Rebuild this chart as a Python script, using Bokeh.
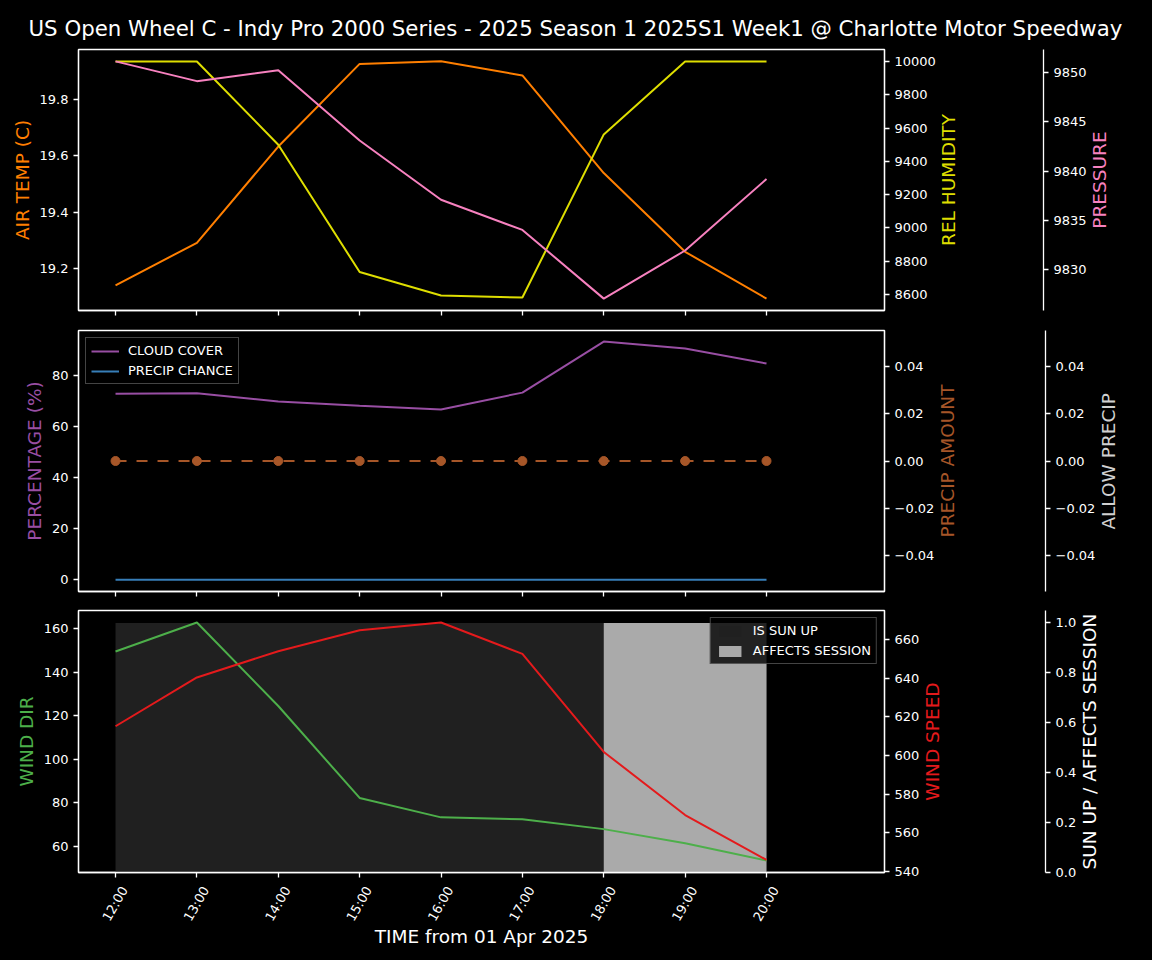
import math
from bokeh.plotting import figure
from bokeh.models import (LinearAxis, Range1d, FixedTicker, CustomJSTickFormatter,
                          Legend, LegendItem, CustomLabelingPolicy)
from bokeh.layouts import column
from bokeh.embed import file_html
from bokeh.resources import INLINE

# ---------------- data ----------------
TITLE = "US Open Wheel C - Indy Pro 2000 Series - 2025 Season 1 2025S1 Week1 @ Charlotte Motor Speedway"
X_LABEL = "TIME from 01 Apr 2025"
hours = [12, 13, 14, 15, 16, 17, 18, 19, 20]
hour_labels = ["12:00", "13:00", "14:00", "15:00", "16:00", "17:00", "18:00", "19:00", "20:00"]

air_temp = [19.141, 19.292, 19.633, 19.926, 19.935, 19.885, 19.539, 19.26, 19.094]
rel_humidity = [10000, 10000, 9500, 8735, 8594, 8582, 9562, 10000, 10000]
pressure = [9851.1, 9849.1, 9850.2, 9843.1, 9837.1, 9834.05, 9827.1, 9831.97, 9839.2]

cloud_cover = [72.9, 73.1, 69.8, 68.2, 66.7, 73.3, 93.3, 90.6, 84.7]
precip_chance = [0, 0, 0, 0, 0, 0, 0, 0, 0]
precip_amount = [0.0, 0.0, 0.0, 0.0, 0.0, 0.0, 0.0, 0.0, 0.0]

wind_dir = [149.5, 162.8, 124.5, 82.3, 73.4, 72.5, 68.0, 61.5, 53.6]
wind_speed = [615.2, 640.5, 654.1, 665.0, 669.0, 652.7, 601.9, 569.2, 545.9]
is_sun_up = [1, 1, 1, 1, 1, 1, 1, 1, 1]
affects_session = [0, 0, 0, 0, 0, 0, 1, 1, 1]

temp_ticks = [19.2, 19.4, 19.6, 19.8]
hum_ticks = [8600, 8800, 9000, 9200, 9400, 9600, 9800, 10000]
pres_ticks = [9830, 9835, 9840, 9845, 9850]
pct_ticks = [0, 20, 40, 60, 80]
amt_ticks = [-0.04, -0.02, 0.0, 0.02, 0.04]
dir_ticks = [60, 80, 100, 120, 140, 160]
spd_ticks = [540, 560, 580, 600, 620, 640, 660]
sun_ticks = [0.0, 0.2, 0.4, 0.6, 0.8, 1.0]

# ---------------- styles ----------------
FONT = "DejaVu Sans"
ORANGE = "#ff7f00"
YELLOW = "#dede00"
PINK = "#f781bf"
PURPLE = "#984ea3"
BLUE = "#377eb8"
BROWN = "#a65628"
GREEN = "#4daf4a"
RED = "#e41a1c"
LEFT = 78
FRAME_W = 806
X_RANGE = (11.545, 21.45)
LABEL_PX = 18.5
LABEL_SIZE = "18.5px"
TICK_SIZE = "13px"
LABEL_SHIFT = 0.11     # hours; centres the rotated hour labels under their ticks
TITLE_STANDOFF = 10    # gap between right tick labels and the right axis titles

# DejaVu Sans advance widths (em) used to centre the rotated right-hand titles
_W = {"A": .684, "C": .698, "D": .770, "E": .632, "F": .575, "H": .752, "I": .295,
      "L": .557, "M": .863, "N": .748, "O": .787, "P": .603, "R": .695, "S": .635,
      "T": .611, "U": .732, "W": .989, "Y": .611, " ": .318, "/": .337}


def text_px(s):
    return sum(_W.get(c, .6) for c in s) * LABEL_PX


def fmt(decimals):
    return CustomJSTickFormatter(code="return tick.toFixed(%d).replace('-', '\u2212');" % decimals)


NO_LABELS = CustomLabelingPolicy(code="""
try { for (let i = 0; i < indices.size; i++) { indices.unset(i) } } catch (e) {}
return indices
""")


def base_fig(frame_h, top, bottom, yr, title=None):
    kw = {}
    if title:
        kw["title"] = title
    p = figure(frame_width=FRAME_W, frame_height=frame_h,
               x_range=Range1d(*X_RANGE), y_range=Range1d(*yr),
               output_backend="svg", toolbar_location=None,
               min_border_left=LEFT, min_border_right=262,
               min_border_top=top, min_border_bottom=bottom,
               background_fill_color="black", border_fill_color="black",
               outline_line_color="white", outline_line_width=1.3, **kw)
    p.xgrid.visible = False
    p.ygrid.visible = False
    p.extra_y_ranges = {"px": Range1d(0, frame_h)}
    return p


def style_axis(ax, label, color, ticks, formatter):
    if label:
        ax.axis_label = label
        ax.axis_label_text_color = color
        ax.axis_label_text_font = FONT
        ax.axis_label_text_font_size = LABEL_SIZE
        ax.axis_label_text_font_style = "normal"
        ax.axis_label_standoff = 4
    ax.ticker = FixedTicker(ticks=ticks)
    ax.formatter = formatter
    ax.major_label_text_color = "white"
    ax.major_label_text_font = FONT
    ax.major_label_text_font_size = TICK_SIZE
    ax.major_label_standoff = 5
    ax.major_tick_in = 0
    ax.major_tick_out = 5
    ax.major_tick_line_color = "white"
    ax.major_tick_line_width = 1.3
    ax.minor_tick_line_color = None
    ax.axis_line_color = "white"
    ax.axis_line_width = 1.3


def add_title_axis(p, text, color, frame_h):
    # a line-less axis whose single tick label is the (upward reading) axis title
    start = frame_h / 2 - text_px(text) / 2
    ax = LinearAxis(y_range_name="px", ticker=FixedTicker(ticks=[start]),
                    formatter=CustomJSTickFormatter(args=dict(t=text), code="return t;"))
    ax.axis_line_color = None
    ax.major_tick_line_color = None
    ax.minor_tick_line_color = None
    ax.major_tick_out = 0
    ax.major_tick_in = 0
    ax.minor_tick_out = 0
    ax.minor_tick_in = 0
    ax.major_label_standoff = TITLE_STANDOFF
    ax.major_label_orientation = math.pi / 2
    ax.major_label_text_color = color
    ax.major_label_text_font = FONT
    ax.major_label_text_font_size = LABEL_SIZE
    p.add_layout(ax, "right")


def add_right(p, rname, label, color, ticks, formatter, frame_h):
    ax = LinearAxis(y_range_name=rname)
    style_axis(ax, None, color, ticks, formatter)
    p.add_layout(ax, "right")
    add_title_axis(p, label, color, frame_h)
    return ax


def add_spacer(p, rname, tick_value, width):
    # invisible axis (one invisible tick, no label) that pushes the outer axis to the right
    ax = LinearAxis(y_range_name=rname, ticker=FixedTicker(ticks=[tick_value]))
    ax.major_label_policy = NO_LABELS
    ax.major_label_text_font_size = "0px"
    ax.axis_line_color = None
    ax.major_tick_out = width
    ax.major_tick_in = 0
    ax.minor_tick_out = 0
    ax.minor_tick_in = 0
    ax.major_label_standoff = 0
    ax.major_tick_line_color = None
    ax.minor_tick_line_color = None
    p.add_layout(ax, "right")


def style_x(p, show_labels):
    ax = p.xaxis[0]
    ax.ticker = FixedTicker(ticks=hours)
    ax.major_tick_in = 0
    ax.major_tick_out = 5
    ax.major_tick_line_color = "white"
    ax.major_tick_line_width = 1.3
    ax.minor_tick_line_color = None
    ax.axis_line_color = "white"
    ax.axis_line_width = 1.3
    ax.major_label_policy = NO_LABELS
    ax.major_label_text_font_size = "0px"
    ax.major_label_standoff = 0
    if show_labels:
        lab_ax = LinearAxis(ticker=FixedTicker(ticks=[h + LABEL_SHIFT for h in hours]),
                            formatter=CustomJSTickFormatter(args=dict(labels=hour_labels),
                                                            code="return labels[index];"))
        lab_ax.axis_line_color = None
        lab_ax.major_tick_line_color = None
        lab_ax.minor_tick_line_color = None
        lab_ax.major_tick_out = 0
        lab_ax.major_tick_in = 0
        lab_ax.minor_tick_out = 0
        lab_ax.minor_tick_in = 0
        lab_ax.major_label_standoff = 10
        lab_ax.major_label_orientation = math.pi / 3
        lab_ax.major_label_text_color = "white"
        lab_ax.major_label_text_font = FONT
        lab_ax.major_label_text_font_size = TICK_SIZE
        lab_ax.axis_label = X_LABEL
        lab_ax.axis_label_text_color = "white"
        lab_ax.axis_label_text_font = FONT
        lab_ax.axis_label_text_font_size = LABEL_SIZE
        lab_ax.axis_label_text_font_style = "normal"
        lab_ax.axis_label_standoff = -4
        p.add_layout(lab_ax, "below")


def style_legend(lg):
    lg.background_fill_color = "black"
    lg.background_fill_alpha = 0.8
    lg.border_line_color = "#888888"
    lg.border_line_width = 1
    lg.label_text_color = "white"
    lg.label_text_font = FONT
    lg.label_text_font_size = "13px"
    lg.glyph_width = 28
    lg.glyph_height = 14
    lg.label_height = 14
    lg.spacing = 5
    lg.padding = 5
    lg.margin = 7
    lg.label_standoff = 9


# ---------------- top panel ----------------
TOP_H = 261
top = base_fig(TOP_H, 49, 10, (19.052, 19.977), title=TITLE)
top.title.align = "left"
top.title.offset = -50
top.title.text_color = "white"
top.title.text_font = FONT
top.title.text_font_size = "21.3px"
top.title.text_font_style = "normal"
top.title.standoff = 17
top.extra_y_ranges.update({"hum": Range1d(8504, 10072), "pres": Range1d(9825.9, 9852.3)})
top.line(hours, air_temp, color=ORANGE, line_width=2)
top.line(hours, rel_humidity, color=YELLOW, line_width=2, y_range_name="hum")
top.line(hours, pressure, color=PINK, line_width=2, y_range_name="pres")
style_axis(top.yaxis[0], "AIR TEMP (C)", ORANGE, temp_ticks, fmt(1))
add_right(top, "hum", "REL HUMIDITY", YELLOW, hum_ticks, fmt(0), TOP_H)
add_spacer(top, "hum", hum_ticks[3], 71)
add_right(top, "pres", "PRESSURE", PINK, pres_ticks, fmt(0), TOP_H)
style_x(top, False)

# ---------------- middle panel ----------------
MID_H = 261
mid = base_fig(MID_H, 10, 10, (-4.65, 97.65))
mid.extra_y_ranges.update({"amt": Range1d(-0.055, 0.055), "allow": Range1d(-0.055, 0.055)})
cc = mid.line(hours, cloud_cover, color=PURPLE, line_width=2)
pc = mid.line(hours, precip_chance, color=BLUE, line_width=2)
mid.line(hours, precip_amount, color=BROWN, line_width=2, line_dash="11 10", y_range_name="amt")
mid.scatter(hours, precip_amount, size=9, color=BROWN, y_range_name="amt")
style_axis(mid.yaxis[0], "PERCENTAGE (%)", PURPLE, pct_ticks, fmt(0))
add_right(mid, "amt", "PRECIP AMOUNT", BROWN, amt_ticks, fmt(2), MID_H)
add_spacer(mid, "amt", amt_ticks[2], 74)
add_right(mid, "allow", "ALLOW PRECIP", "#d0d0d0", amt_ticks, fmt(2), MID_H)
style_x(mid, False)
lg_mid = Legend(items=[LegendItem(label="CLOUD COVER", renderers=[cc]),
                       LegendItem(label="PRECIP CHANCE", renderers=[pc])],
                location="top_left")
style_legend(lg_mid)
mid.add_layout(lg_mid)

# ---------------- bottom panel ----------------
BOT_H = 262
bot = base_fig(BOT_H, 9, 80, (48.1, 168.3))
bot.extra_y_ranges.update({"spd": Range1d(539.4, 675.2), "sun": Range1d(0, 1.05)})
sun_x = [h for h, s in zip(hours, is_sun_up) if s]
sun_y = [s for s in is_sun_up if s]
aff_x = [h for h, a in zip(hours, affects_session) if a]
aff_y = [a for a in affects_session if a]
sun_r = bot.varea(x=sun_x, y1=[0] * len(sun_x), y2=sun_y, fill_color="#202020", y_range_name="sun")
aff_r = bot.varea(x=aff_x, y1=[0] * len(aff_x), y2=aff_y, fill_color="#aaaaaa", y_range_name="sun")
bot.line(hours, wind_dir, color=GREEN, line_width=2)
bot.line(hours, wind_speed, color=RED, line_width=2, y_range_name="spd")
style_axis(bot.yaxis[0], "WIND DIR", GREEN, dir_ticks, fmt(0))
add_right(bot, "spd", "WIND SPEED", RED, spd_ticks, fmt(0), BOT_H)
add_spacer(bot, "spd", spd_ticks[3], 89)
add_right(bot, "sun", "SUN UP / AFFECTS SESSION", "white", sun_ticks, fmt(1), BOT_H)
style_x(bot, True)
lg_bot = Legend(items=[LegendItem(label="IS SUN UP", renderers=[sun_r]),
                       LegendItem(label="AFFECTS SESSION", renderers=[aff_r])],
                location="top_right")
style_legend(lg_bot)
bot.add_layout(lg_bot)

layout = column(top, mid, bot)
html = file_html(layout, INLINE, title="weather")
html = html.replace("</head>", "<style>html,body{background-color:black;margin:0;padding:0;}</style></head>", 1)
open("out.html", "w").write(html)
